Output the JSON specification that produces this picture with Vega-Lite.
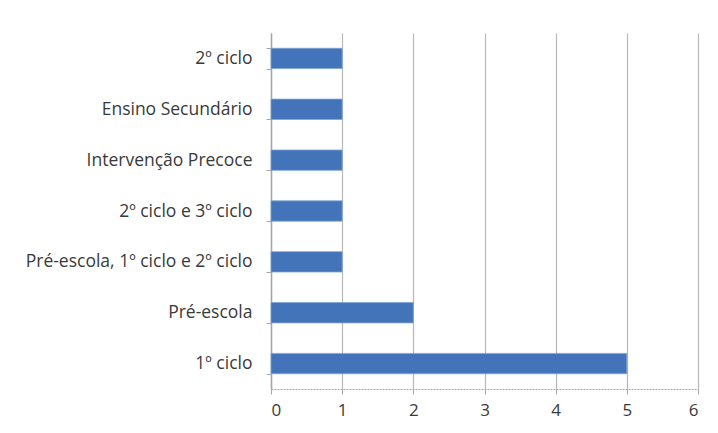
{
  "$schema": "https://vega.github.io/schema/vega-lite/v6.json",
  "width": 427,
  "height": 356,
  "autosize": {"type": "none"},
  "padding": {"left": 271, "top": 33, "right": 20, "bottom": 44},
  "background": "white",
  "config": {
    "view": {"stroke": null},
    "font": "Open Sans"
  },
  "data": {
    "values": [
      {"nivel": "2º ciclo", "n": 1},
      {"nivel": "Ensino Secundário", "n": 1},
      {"nivel": "Intervenção Precoce", "n": 1},
      {"nivel": "2º ciclo e 3º ciclo", "n": 1},
      {"nivel": "Pré-escola, 1º ciclo e 2º ciclo", "n": 1},
      {"nivel": "Pré-escola", "n": 2},
      {"nivel": "1º ciclo", "n": 5}
    ]
  },
  "mark": {"type": "bar", "color": "#4374ba", "stroke": "#7da3d6", "strokeWidth": 0.8},
  "encoding": {
    "y": {
      "field": "nivel",
      "type": "nominal",
      "sort": null,
      "scale": {"paddingInner": 0.6, "paddingOuter": 0.3},
      "axis": {
        "title": null,
        "tickBand": "extent",
        "domainColor": "#a6a6a6",
        "domainWidth": 1.5,
        "tickColor": "#a6a6a6",
        "tickSize": 5,
        "labelPadding": 14,
        "labelFontSize": 17.5,
        "labelColor": "#3a3a3a",
        "labelFont": "Open Sans",
        "labelLimit": 300,
        "grid": false
      }
    },
    "x": {
      "field": "n",
      "type": "quantitative",
      "scale": {"domain": [0, 6], "nice": false},
      "axis": {
        "title": null,
        "values": [0, 1, 2, 3, 4, 5, 6],
        "format": "d",
        "grid": true,
        "gridColor": "#b8b8b8",
        "gridWidth": 1.2,
        "domainColor": "#a6a6a6",
        "domainDash": [2, 1],
        "tickColor": "#a6a6a6",
        "tickSize": 5,
        "labelPadding": 8,
        "labelFontSize": 17,
        "labelColor": "#3a3a3a",
        "labelFont": "Open Sans"
      }
    }
  }
}
